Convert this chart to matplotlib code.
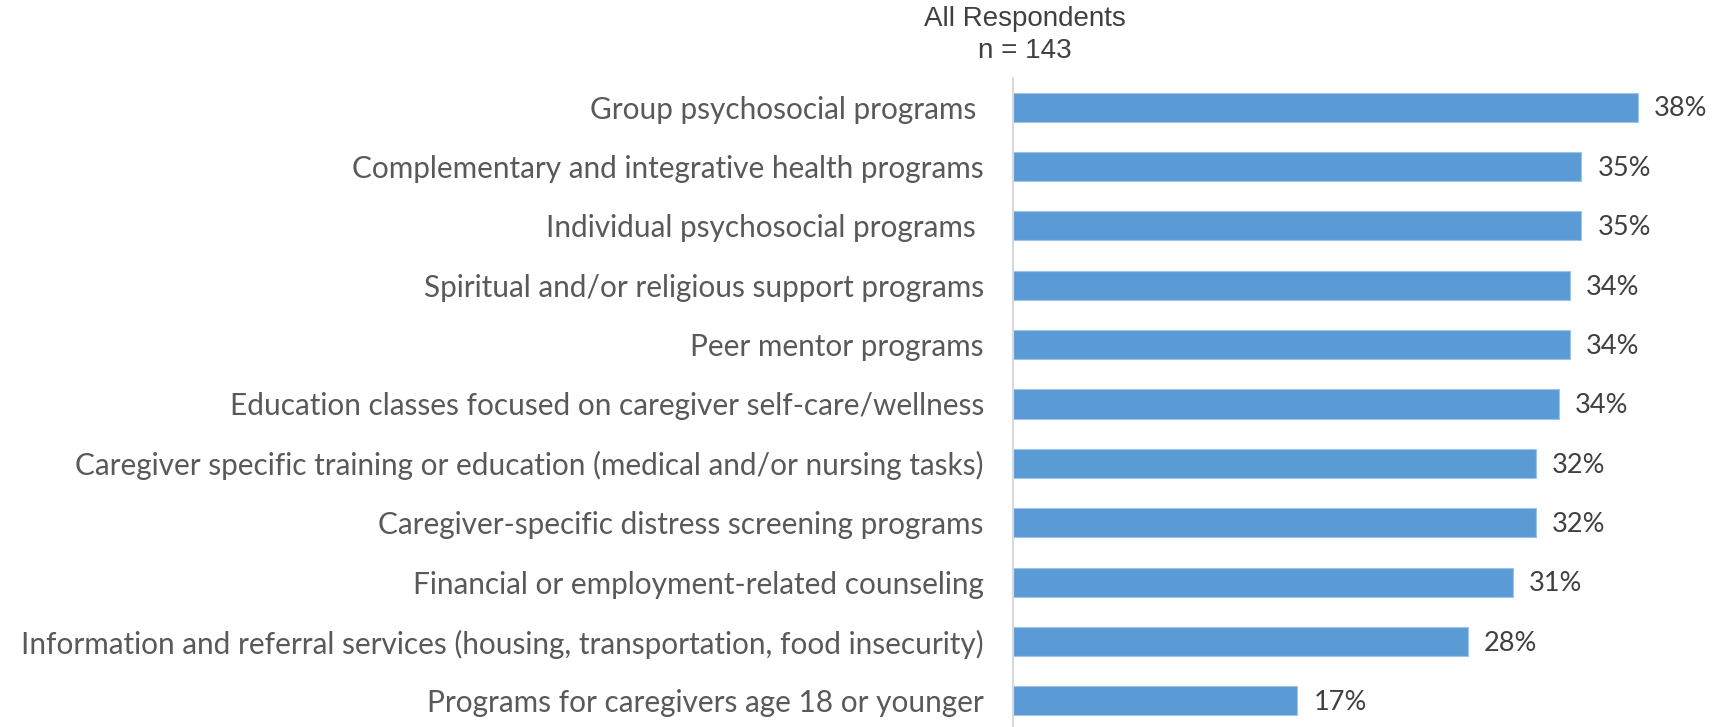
import matplotlib
matplotlib.use("Agg")
import matplotlib.pyplot as plt

categories = [
    "Group psychosocial programs ",
    "Complementary and integrative health programs",
    "Individual psychosocial programs ",
    "Spiritual and/or religious support programs",
    "Peer mentor programs",
    "Education classes focused on caregiver self-care/wellness",
    "Caregiver specific training or education (medical and/or nursing tasks)",
    "Caregiver-specific distress screening programs",
    "Financial or employment-related counseling",
    "Information and referral services (housing, transportation, food insecurity)",
    "Programs for caregivers age 18 or younger",
]
values = [38.46, 34.97, 34.97, 34.27, 34.27, 33.57, 32.17, 32.17, 30.77, 27.97, 17.48]
labels = ["38%", "35%", "35%", "34%", "34%", "34%", "32%", "32%", "31%", "28%", "17%"]
title = "All Respondents\nn = 143"

W, H = 1714, 727
fig = plt.figure(figsize=(W / 100, H / 100), dpi=100)
left = 1013 / W
top = 78 / H
ax = fig.add_axes([left, 0, 1 - left, 1 - top])

ypos = list(range(len(categories)))
ax.barh(ypos, values, height=0.49, color="#5B9BD5", edgecolor="#9DC3E6", linewidth=0.8)
ax.set_ylim(10.44, -0.49)
ax.set_xlim(0, (W - 1013) / 16.25)

for y, v, lab in zip(ypos, values, labels):
    ax.text(v + 1.0, y + 0.03, lab, va="center", ha="left", fontsize=19.5,
            color="#404040", family="Lato")

ax.set_yticks(ypos)
ax.set_yticklabels(categories, fontsize=21.4, color="#595959", family="Lato")
ax.tick_params(axis="y", length=0, pad=21)
ax.set_xticks([])
for s in ["top", "right", "bottom"]:
    ax.spines[s].set_visible(False)
ax.spines["left"].set_color("#D9D9D9")
ax.spines["left"].set_linewidth(1.5)

fig.text(1025 / W, 1 - 35 / H, title, ha="center", va="center", fontsize=20,
         color="#404040", family="Liberation Sans", linespacing=1.3)

fig.savefig("out.png", dpi=100)
